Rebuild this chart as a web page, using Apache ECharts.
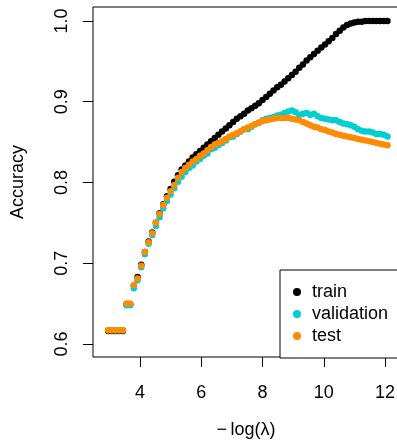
<!DOCTYPE html>
<html>
<head>
<meta charset="utf-8">
<script src="https://cdn.jsdelivr.net/npm/echarts@6/dist/echarts.min.js"></script>
<style>
  html, body { margin: 0; padding: 0; background: #fff; }
  #chart { width: 397px; height: 441px; }
</style>
</head>
<body>
<div id="chart"></div>
<script>
// -log(lambda) values along the path
const negLogLambda = [
  2.96, 3.08, 3.20, 3.32, 3.44, 3.56, 3.68, 3.80, 3.92, 4.04,
  4.16, 4.28, 4.40, 4.52, 4.64, 4.76, 4.88, 5.00, 5.12, 5.24,
  5.36, 5.48, 5.60, 5.72, 5.84, 5.96, 6.08, 6.20, 6.32, 6.44,
  6.56, 6.68, 6.80, 6.92, 7.04, 7.16, 7.28, 7.40, 7.52, 7.64,
  7.76, 7.88, 8.00, 8.12, 8.24, 8.36, 8.48, 8.60, 8.72, 8.84,
  8.96, 9.08, 9.20, 9.32, 9.44, 9.56, 9.68, 9.80, 9.92, 10.04,
  10.16, 10.28, 10.40, 10.52, 10.64, 10.76, 10.88, 11.00, 11.12, 11.24,
  11.36, 11.48, 11.60, 11.72, 11.84, 11.96, 12.08
];
const trainAcc = [
  0.616, 0.616, 0.616, 0.616, 0.616, 0.649, 0.649, 0.672, 0.683, 0.698,
  0.714, 0.727, 0.738, 0.750, 0.762, 0.773, 0.783, 0.792, 0.801, 0.809,
  0.816, 0.821, 0.826, 0.831, 0.835, 0.839, 0.843, 0.847, 0.851, 0.855,
  0.859, 0.863, 0.867, 0.871, 0.875, 0.879, 0.882, 0.885, 0.889, 0.892,
  0.895, 0.898, 0.902, 0.906, 0.910, 0.914, 0.918, 0.921, 0.925, 0.929,
  0.933, 0.937, 0.942, 0.946, 0.951, 0.955, 0.959, 0.963, 0.967, 0.971,
  0.975, 0.979, 0.984, 0.988, 0.992, 0.995, 0.997, 0.998, 0.999, 0.999,
  1.000, 1.000, 1.000, 1.000, 1.000, 1.000, 1.000
];
const validAcc = [
  0.617, 0.617, 0.617, 0.617, 0.617, 0.648, 0.648, 0.669, 0.679, 0.695,
  0.711, 0.724, 0.735, 0.746, 0.757, 0.768, 0.777, 0.785, 0.793, 0.801,
  0.807, 0.813, 0.818, 0.821, 0.826, 0.829, 0.833, 0.836, 0.841, 0.843,
  0.846, 0.849, 0.852, 0.856, 0.857, 0.860, 0.863, 0.866, 0.866, 0.869,
  0.872, 0.874, 0.877, 0.879, 0.880, 0.881, 0.883, 0.884, 0.886, 0.888,
  0.889, 0.887, 0.884, 0.885, 0.886, 0.884, 0.885, 0.882, 0.880, 0.879,
  0.878, 0.877, 0.877, 0.875, 0.873, 0.872, 0.871, 0.869, 0.866, 0.864,
  0.863, 0.863, 0.862, 0.860, 0.860, 0.859, 0.857
];
const testAcc = [
  0.617, 0.617, 0.617, 0.617, 0.617, 0.650, 0.650, 0.673, 0.681, 0.697,
  0.714, 0.726, 0.737, 0.750, 0.761, 0.772, 0.781, 0.789, 0.797, 0.806,
  0.813, 0.818, 0.822, 0.826, 0.829, 0.833, 0.836, 0.840, 0.844, 0.847,
  0.849, 0.851, 0.854, 0.857, 0.859, 0.861, 0.863, 0.866, 0.868, 0.870,
  0.872, 0.874, 0.876, 0.877, 0.878, 0.879, 0.880, 0.880, 0.880, 0.880,
  0.879, 0.878, 0.877, 0.875, 0.873, 0.871, 0.869, 0.868, 0.866, 0.865,
  0.863, 0.862, 0.860, 0.859, 0.858, 0.857, 0.856, 0.855, 0.854, 0.853,
  0.852, 0.851, 0.850, 0.849, 0.848, 0.847, 0.846
];
const xTicks = [4, 6, 8, 10, 12];
const yTicks = [0.6, 0.7, 0.8, 0.9, 1.0];

const FONT = '"Liberation Sans", Arial, Helvetica, sans-serif';

function pairs(ys) {
  return negLogLambda.map((x, i) => [x, ys[i]]);
}

const chart = echarts.init(document.getElementById('chart'), null, { renderer: 'canvas' });

const option = {
  animation: false,
  backgroundColor: '#fff',
  textStyle: { fontFamily: FONT, color: '#000' },
  grid: {
    left: 93, top: 7, width: 306, height: 350,
    containLabel: false,
    outerBoundsMode: 'none',
    show: true, borderColor: '#000', borderWidth: 1, backgroundColor: 'transparent'
  },
  // legend frame, runs off the right edge like the original
  graphic: [{
    type: 'rect', left: 279.5, top: 269.5, z: 5,
    shape: { width: 140, height: 88 },
    style: { fill: '#fff', stroke: '#000', lineWidth: 1 }
  }],
  legend: {
    left: 279, top: 269, z: 10,
    orient: 'vertical',
    icon: 'circle',
    itemWidth: 8, itemHeight: 8,
    itemGap: 4,
    padding: [14, 4, 12, 14],
    selectedMode: false,
    textStyle: { fontFamily: FONT, fontSize: 18, color: '#000', lineHeight: 18, padding: [0, 0, 0, 6] },
    data: ['train', 'validation', 'test']
  },
  xAxis: {
    type: 'value',
    min: 2.465, max: 12.457,
    name: '\u2212\u2009log(\u03bb)',
    nameLocation: 'middle',
    nameGap: 64,
    nameTextStyle: { fontFamily: FONT, fontSize: 18, color: '#000' },
    axisLine: { show: false },
    axisTick: { show: true, customValues: xTicks, length: 10, lineStyle: { color: '#000' } },
    axisLabel: { customValues: xTicks, fontFamily: FONT, fontSize: 18, color: '#000', margin: 27 },
    splitLine: { show: false }
  },
  yAxis: {
    type: 'value',
    min: 0.5839, max: 1.0173,
    name: 'Accuracy',
    nameLocation: 'middle',
    nameGap: 66,
    nameRotate: 90,
    nameTextStyle: { fontFamily: FONT, fontSize: 18, color: '#000' },
    axisLine: { show: false },
    axisTick: { show: true, customValues: yTicks, length: 10, lineStyle: { color: '#000' } },
    axisLabel: {
      customValues: yTicks, rotate: 90, fontFamily: FONT, fontSize: 18, color: '#000', margin: 22,
      formatter: v => v.toFixed(1)
    },
    splitLine: { show: false }
  },
  series: [
    { name: 'train', type: 'scatter', data: pairs(trainAcc), symbolSize: 6.5,
      itemStyle: { color: '#000000', opacity: 1 }, emphasis: { disabled: true } },
    { name: 'validation', type: 'scatter', data: pairs(validAcc), symbolSize: 6.5,
      itemStyle: { color: '#00CED1', opacity: 1 }, emphasis: { disabled: true } },
    { name: 'test', type: 'scatter', data: pairs(testAcc), symbolSize: 6.5,
      itemStyle: { color: '#FF8C00', opacity: 1 }, emphasis: { disabled: true } }
  ]
};

chart.setOption(option);
</script>
</body>
</html>
